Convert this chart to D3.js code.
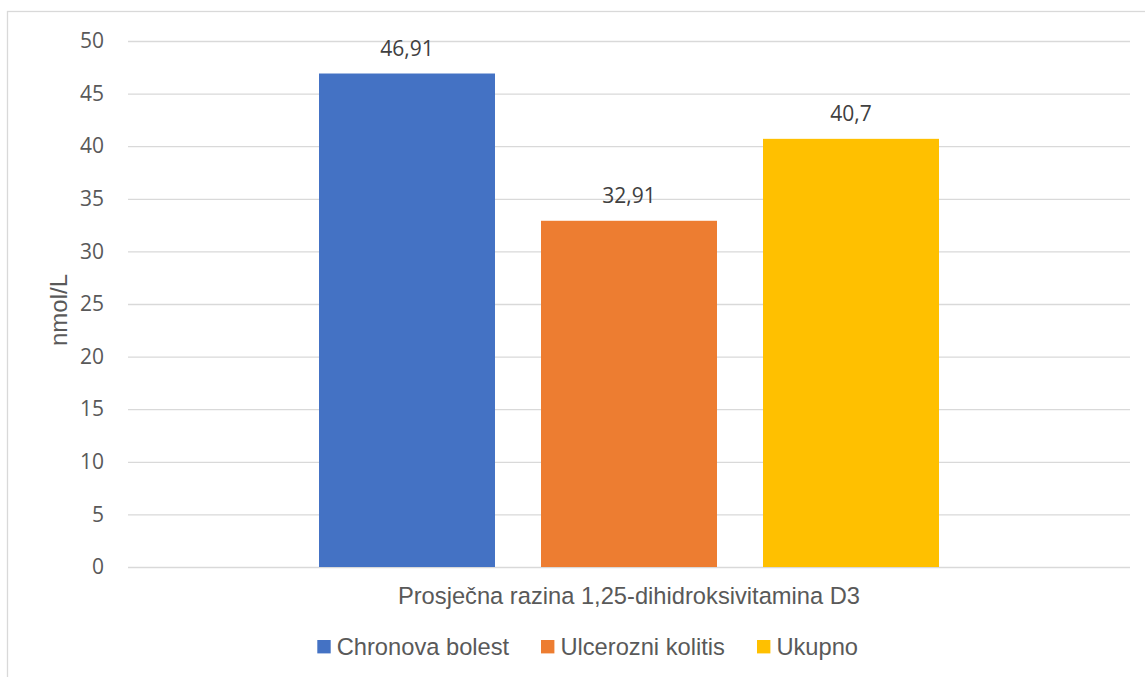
<!DOCTYPE html>
<html><head><meta charset="utf-8">
<script src="https://cdn.jsdelivr.net/npm/d3@7"></script>
<style>body{margin:0;background:#fff;} svg{display:block;}</style>
</head><body>
<svg id="c" width="1145" height="677"></svg>
<script>
const categories = ["Chronova bolest", "Ulcerozni kolitis", "Ukupno"];
const values = [46.91, 32.91, 40.7];
const valueLabels = ["46,91", "32,91", "40,7"];
const colors = ["#4472C4", "#ED7D31", "#FFC000"];
const yTicks = [0, 5, 10, 15, 20, 25, 30, 35, 40, 45, 50];
const groupLabel = "Prosječna razina 1,25-dihidroksivitamina D3";
const yTitle = "nmol/L";

const svg = d3.select("#c");
svg.append("rect").attr("x", 7.5).attr("y", 11.5).attr("width", 1150).attr("height", 700)
  .attr("fill", "#fff").attr("stroke", "#d9d9d9").attr("stroke-width", 1.3);

const plot = {left: 128, right: 1130, top: 41, bottom: 567};
const y = d3.scaleLinear().domain([0, 50]).range([plot.bottom, plot.top]);
const outer = d3.scaleBand().domain([groupLabel]).range([plot.left, plot.right]);
const inner = d3.scaleBand().domain(categories).range([319, 939]).paddingInner(46/222);

const grid = svg.append("g").attr("transform", `translate(${plot.left},0)`)
  .call(d3.axisLeft(y).tickValues(yTicks).tickSize(-(plot.right - plot.left)).tickFormat(""));
grid.select(".domain").remove();
grid.selectAll("line").attr("stroke", "#d9d9d9").attr("stroke-width", 1.3);

const yl = svg.append("g").attr("transform", `translate(104,0)`)
  .call(d3.axisLeft(y).tickValues(yTicks).tickSize(0).tickPadding(0));
yl.select(".domain").remove();
yl.selectAll("text").attr("font-family", "'Open Sans', sans-serif").attr("font-size", 21).attr("fill", "#595959");

svg.selectAll("rect.bar").data(categories).enter().append("rect").attr("class", "bar")
  .attr("x", d => inner(d)).attr("width", inner.bandwidth())
  .attr("y", (d, i) => y(values[i])).attr("height", (d, i) => y(0) - y(values[i]))
  .attr("fill", (d, i) => colors[i]);

svg.selectAll("text.vl").data(categories).enter().append("text").attr("class", "vl")
  .attr("x", d => inner(d) + inner.bandwidth() / 2)
  .attr("y", (d, i) => y(values[i]) - 17.5)
  .attr("text-anchor", "middle").attr("font-family", "'Open Sans', sans-serif").attr("font-size", 21)
  .attr("fill", "#404040").text((d, i) => valueLabels[i]);

svg.append("text").attr("x", outer(groupLabel) + outer.bandwidth() / 2).attr("y", 603.5)
  .attr("text-anchor", "middle").attr("font-family", "'Liberation Sans', Arial, sans-serif")
  .attr("font-size", 23.7).attr("fill", "#595959").text(groupLabel);

svg.append("text").attr("transform", "translate(66.5,310) rotate(-90)")
  .attr("text-anchor", "middle").attr("font-family", "'Liberation Sans', Arial, sans-serif")
  .attr("font-size", 24).attr("fill", "#595959").text(yTitle);

const legX = [317.3, 541, 757];
const leg = svg.selectAll("g.leg").data(categories).enter().append("g").attr("class", "leg")
  .attr("transform", (d, i) => `translate(${legX[i]},640)`);
leg.append("rect").attr("width", 13.4).attr("height", 13.4).attr("fill", (d, i) => colors[i]);
leg.append("text").attr("x", 19.4).attr("y", 15).attr("font-family", "'Liberation Sans', Arial, sans-serif")
  .attr("font-size", 23.7).attr("fill", "#595959").text(d => d);
</script>
</body></html>
